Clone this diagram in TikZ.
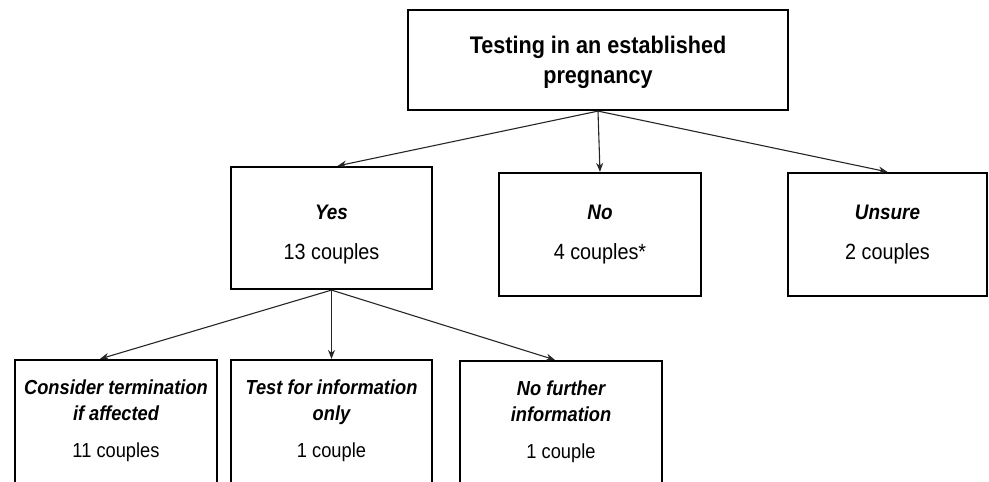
\documentclass[tikz,border=0pt]{standalone}
\usepackage{fontspec}
\setmainfont{Liberation Sans}[FakeStretch=0.9]
\usetikzlibrary{arrows.meta,calc}
\begin{document}
\begin{tikzpicture}[x=1pt,y=-1pt,
  box/.style={draw, line width=2.2pt, rectangle, inner sep=0pt, align=center},
  arr/.style={-{Stealth[length=9pt,width=7pt]}, line width=1.1pt, draw=black!85},
  ttl/.style={font=\fontsize{24}{30}\selectfont\bfseries},
  mid/.style={align=center, inner sep=0pt, font=\fontsize{22}{26}\selectfont},
  txt/.style={align=center, inner sep=0pt, font=\fontsize{20.3}{26}\selectfont}]
\useasboundingbox (0,0) rectangle (989,482);
% top
\node[box, minimum width=380pt, minimum height=100pt] (top) at (598,60) {};
\node[txt, ttl] (topT) at (598,62) {Testing in an established\\pregnancy};
% middle row
\node[box, minimum width=201pt, minimum height=122pt] (yes) at (331.5,228) {};
\node[box, minimum width=202pt, minimum height=123pt] (no) at (600,234.5) {};
\node[box, minimum width=199pt, minimum height=123pt] (uns) at (887.5,234.5) {};
\node[mid] (yesT) at (331.5,234.5)
  {{\fontsize{21}{26}\selectfont\bfseries\itshape Yes}\\[14pt]{13 couples}};
\node[mid] (noT) at (600,234.5)
  {{\fontsize{21}{26}\selectfont\bfseries\itshape No}\\[14pt]{4 couples*}};
\node[mid] (unsT) at (887.5,234.5)
  {{\fontsize{21}{26}\selectfont\bfseries\itshape Unsure}\\[14pt]{2 couples}};
% bottom row (boxes continue below the page edge)
\node[box, minimum width=202pt, minimum height=160pt] (cons) at (116,440) {};
\node[box, minimum width=201pt, minimum height=160pt] (test) at (331.5,440) {};
\node[box, minimum width=202pt, minimum height=160pt] (nofu) at (561,441) {};
\node[txt] (consT) at (116,421)
  {{\bfseries\itshape Consider termination}\\{\bfseries\itshape if affected}\\[11pt]{11 couples}};
\node[txt] (testT) at (331.5,421)
  {{\bfseries\itshape Test for information}\\{\bfseries\itshape only}\\[11pt]{1 couple}};
\node[txt] (nofuT) at (561,422)
  {{\bfseries\itshape No further}\\{\bfseries\itshape information}\\[11pt]{1 couple}};
% connectors
\draw[arr] (top.south) -- ([xshift=6pt]yes.north);
\draw[arr] (top.south) -- (no.north);
\draw[arr] (top.south) -- (uns.north);
\draw[arr] (yes.south) -- ([xshift=-16pt]cons.north);
\draw[arr] (yes.south) -- (test.north);
\draw[arr] (yes.south) -- ([xshift=-6pt]nofu.north);
\end{tikzpicture}
\end{document}
